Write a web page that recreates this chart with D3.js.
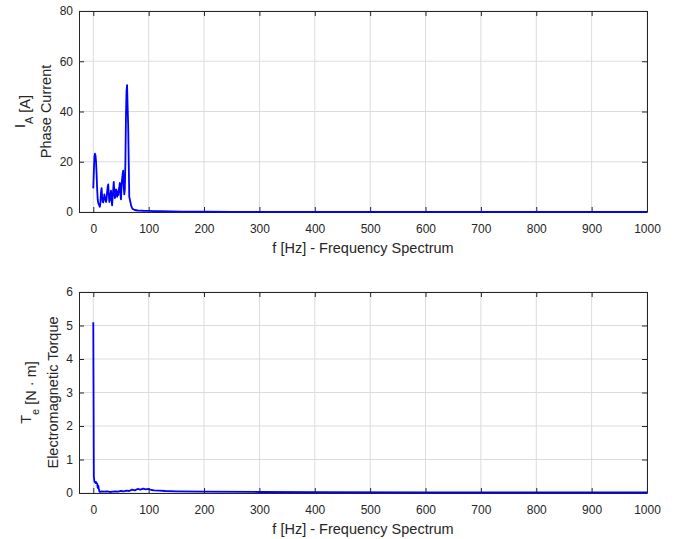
<!DOCTYPE html>
<html>
<head>
<meta charset="utf-8">
<script src="https://cdn.jsdelivr.net/npm/d3@7"></script>
<style>
  body { margin: 0; background: #fff; }
  svg { font-family: "Liberation Sans", Arial, sans-serif; }
  .tick text { font-size: 12px; fill: #262626; }
</style>
</head>
<body>
<svg width="674" height="539"></svg>
<script>
const svg = d3.select("svg");

// frequency axis ticks (both panels)
const freqTicks = [0, 100, 200, 300, 400, 500, 600, 700, 800, 900, 1000];

// phase current spectrum
const currentFreq = [0, 1, 2, 3, 4, 5, 6, 7, 8, 9, 10, 11, 12, 13, 14, 15, 16, 17, 18, 19,
  20, 21, 22, 23, 24, 25, 26, 27, 28, 29, 30, 31, 32, 33, 34, 35, 36, 37, 38, 39,
  40, 41, 42, 43, 44, 45, 46, 47, 48, 49, 50, 51, 52, 53, 54, 55, 56, 57, 58, 59,
  60, 61, 62, 63, 64, 65, 66, 67, 68, 69, 70, 71, 72, 73, 74, 75, 80, 85, 90, 100,
  110, 120, 140, 160, 200, 250, 300, 400, 500, 700, 1000];
const currentAmp = [9.4, 16, 22, 23.2, 22.5, 20, 15, 9, 5, 3.5, 3, 2.5, 2.1, 4, 8, 9.5, 6, 4, 3.8, 5,
  7, 6, 5, 4, 5, 8, 10, 11, 7, 4, 5, 7, 8.5, 5, 2.6, 6, 9, 12, 8, 5.5,
  7, 9, 8.5, 6, 8, 6.7, 9, 10, 11.6, 7, 5, 10, 13, 15, 16.5, 10, 7, 9, 20, 38,
  48, 50.5, 42, 34.6, 20, 6, 5, 4, 3, 2.1, 1.6, 1.3, 1.1, 1.0, 0.9, 0.8, 0.6, 0.55, 0.5, 0.45,
  0.35, 0.3, 0.2, 0.15, 0.1, 0.07, 0.05, 0.04, 0.03, 0.02, 0.02];
const currentTicks = [0, 20, 40, 60, 80];

// electromagnetic torque spectrum
const torqueFreq = [0, 1, 2, 3, 4, 5, 6, 7, 8, 9, 10, 11, 12, 15, 20, 25, 30, 35, 40, 45,
  50, 55, 60, 65, 70, 75, 80, 85, 90, 95, 100, 105, 110, 120, 130, 150, 200, 300, 400, 600, 1000];
const torqueAmp = [5.1, 0.5, 0.35, 0.32, 0.3, 0.33, 0.3, 0.28, 0.15, 0.22, 0.12, 0.05, 0.03, 0.05, 0.04, 0.05, 0.03, 0.04, 0.05, 0.04,
  0.06, 0.05, 0.07, 0.06, 0.1, 0.08, 0.12, 0.1, 0.13, 0.11, 0.12, 0.09, 0.08, 0.07, 0.06, 0.05, 0.04, 0.03, 0.025, 0.02, 0.02];
const torqueTicks = [0, 1, 2, 3, 4, 5, 6];

const left = 79, right = 647;
const x = d3.scaleLinear().domain([-25.8, 1000]).range([left, right]);

function panel(top, bottom, yMax, yTicks, freq, amp, lab, labX, label2X) {
  const y = d3.scaleLinear().domain([0, yMax]).range([bottom, top]);
  const g = svg.append("g");

  // grid
  g.append("g").selectAll("line").data(freqTicks).join("line")
    .attr("x1", d => x(d)).attr("x2", d => x(d))
    .attr("y1", top).attr("y2", bottom)
    .attr("stroke", "#dcdcdc").attr("stroke-width", 1);
  g.append("g").selectAll("line").data(yTicks).join("line")
    .attr("x1", left).attr("x2", right)
    .attr("y1", d => y(d)).attr("y2", d => y(d))
    .attr("stroke", "#dcdcdc").attr("stroke-width", 1);

  // axes, ticks pointing inward
  const fmt = d3.format("d");
  const xb = g.append("g").attr("transform", `translate(0,${bottom})`)
    .call(d3.axisBottom(x).tickValues(freqTicks).tickFormat(fmt).tickSizeInner(-5).tickSizeOuter(0).tickPadding(12));
  const xt = g.append("g").attr("transform", `translate(0,${top})`)
    .call(d3.axisTop(x).tickValues(freqTicks).tickSizeInner(-5).tickSizeOuter(0).tickFormat(""));
  const yl = g.append("g").attr("transform", `translate(${left},0)`)
    .call(d3.axisLeft(y).tickValues(yTicks).tickFormat(fmt).tickSizeInner(-5).tickSizeOuter(0).tickPadding(6));
  const yr = g.append("g").attr("transform", `translate(${right},0)`)
    .call(d3.axisRight(y).tickValues(yTicks).tickSizeInner(-5).tickSizeOuter(0).tickFormat(""));
  [xb, xt, yl, yr].forEach(a => {
    a.select(".domain").attr("stroke", "#262626");
    a.selectAll(".tick line").attr("stroke", "#262626");
    a.selectAll(".tick text").attr("font-family", null).attr("font-size", null);
  });

  // series
  const data = freq.map((f, i) => [f, amp[i]]);
  g.append("path").datum(data)
    .attr("fill", "none").attr("stroke", "#0000ff").attr("stroke-width", 1.8)
    .attr("stroke-linejoin", "round")
    .attr("d", d3.line().x(d => x(d[0])).y(d => y(d[1])));

  // x label
  g.append("text").attr("x", (left + right) / 2).attr("y", bottom + 41)
    .attr("text-anchor", "middle").attr("font-size", 14.5).attr("fill", "#262626")
    .text("f [Hz] - Frequency Spectrum");

  // y label, two lines (symbol with subscript, then name)
  const cy = (top + bottom) / 2;
  const t1 = g.append("text").attr("transform", `translate(${labX},${cy}) rotate(-90)`)
    .attr("text-anchor", "middle").attr("font-size", 14.5).attr("fill", "#262626");
  t1.append("tspan").attr("dy", -5).text(lab[0]);
  t1.append("tspan").attr("font-size", 11).attr("dy", 8).text(lab[1]);
  t1.append("tspan").attr("dy", -3).text(" " + lab[2]);
  g.append("text").attr("transform", `translate(${label2X},${cy}) rotate(-90)`)
    .attr("text-anchor", "middle").attr("font-size", 14.5).attr("fill", "#262626")
    .text(lab[3]);
}

panel(11, 212, 80, currentTicks, currentFreq, currentAmp, ["I", "A", "[A]", "Phase Current"], 30, 51);
panel(292, 493, 6, torqueTicks, torqueFreq, torqueAmp, ["T", "e", "[N \u00b7 m]", "Electromagnetic Torque"], 36, 57.5);
</script>
</body>
</html>
